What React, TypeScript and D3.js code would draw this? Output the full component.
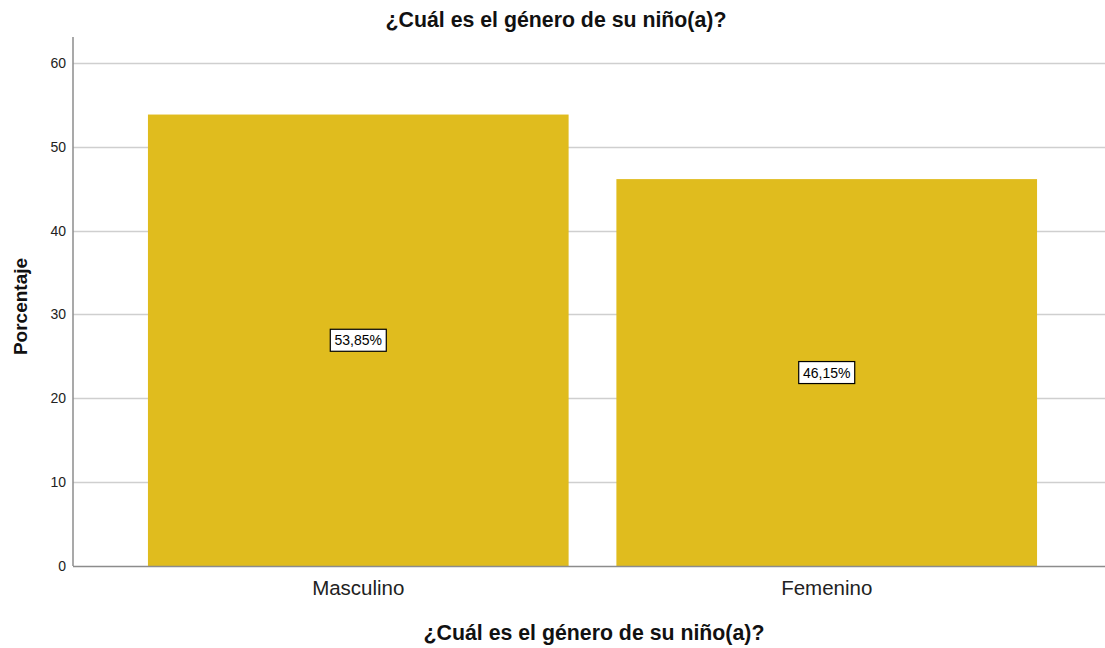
import React from "react";
import * as d3 from "d3";

const title = "¿Cuál es el género de su niño(a)?";
const categories = ["Masculino", "Femenino"];
const values = [53.85, 46.15];
const valueLabels = ["53,85%", "46,15%"];
const yTicks = [0, 10, 20, 30, 40, 50, 60];

export default function App() {
  const width = 1105;
  const height = 648;
  const left = 73;
  const right = 1105;
  const top = 37;
  const bottom = 566;
  const font = "'Liberation Sans', Arial, sans-serif";

  const y = d3.scaleLinear().domain([0, 63.1]).range([bottom, top]);
  const x = d3
    .scaleBand()
    .domain(categories)
    .range([left, 1112])
    .paddingInner(0.102)
    .paddingOuter(0.16);

  return (
    <svg
      width={width}
      height={height}
      style={{ position: "absolute", left: 0, top: 0, display: "block", background: "#fff" }}
    >
      <text
        x={556}
        y={27}
        textAnchor="middle"
        fontFamily={font}
        fontWeight="bold"
        fontSize={21.3}
        fill="#111"
      >
        {title}
      </text>

      {/* grid */}
      {yTicks.slice(1).map((t) => (
        <line
          key={t}
          x1={left}
          x2={right}
          y1={Math.round(y(t)) + 0.5}
          y2={Math.round(y(t)) + 0.5}
          stroke="#cfcfcf"
          strokeWidth={1.5}
        />
      ))}

      {/* bars */}
      {categories.map((c, i) => (
        <rect
          key={c}
          x={x(c)}
          y={y(values[i])}
          width={x.bandwidth()}
          height={bottom - y(values[i])}
          fill="#e0bc1e"
        />
      ))}

      {/* axes */}
      <line x1={left} x2={left} y1={top} y2={bottom} stroke="#8c8c8c" strokeWidth={1.5} />
      <line x1={left} x2={right} y1={bottom + 0.5} y2={bottom + 0.5} stroke="#8c8c8c" strokeWidth={1.5} />

      {yTicks.map((t) => (
        <text
          key={t}
          x={66}
          y={y(t) + 5}
          textAnchor="end"
          fontFamily={font}
          fontSize={14}
          fill="#222"
        >
          {t}
        </text>
      ))}

      {categories.map((c) => (
        <text
          key={c}
          x={(x(c) ?? 0) + x.bandwidth() / 2}
          y={595}
          textAnchor="middle"
          fontFamily={font}
          fontSize={20.5}
          fill="#222"
        >
          {c}
        </text>
      ))}

      {/* value labels */}
      {categories.map((c, i) => {
        const cx = (x(c) ?? 0) + x.bandwidth() / 2;
        const cy = y(values[i] / 2);
        return (
          <g key={c}>
            <rect
              x={cx - 28}
              y={cy - 11}
              width={56}
              height={22}
              fill="#fff"
              stroke="#000"
              strokeWidth={1.2}
            />
            <text
              x={cx}
              y={cy + 5}
              textAnchor="middle"
              fontFamily={font}
              fontSize={14}
              fill="#000"
            >
              {valueLabels[i]}
            </text>
          </g>
        );
      })}

      <text
        x={0}
        y={0}
        transform={`translate(27,${(top + bottom) / 2 + 5}) rotate(-90)`}
        textAnchor="middle"
        fontFamily={font}
        fontWeight="bold"
        fontSize={19}
        fill="#111"
      >
        Porcentaje
      </text>
      <text
        x={594}
        y={640}
        textAnchor="middle"
        fontFamily={font}
        fontWeight="bold"
        fontSize={21.3}
        fill="#111"
      >
        {title}
      </text>
    </svg>
  );
}
